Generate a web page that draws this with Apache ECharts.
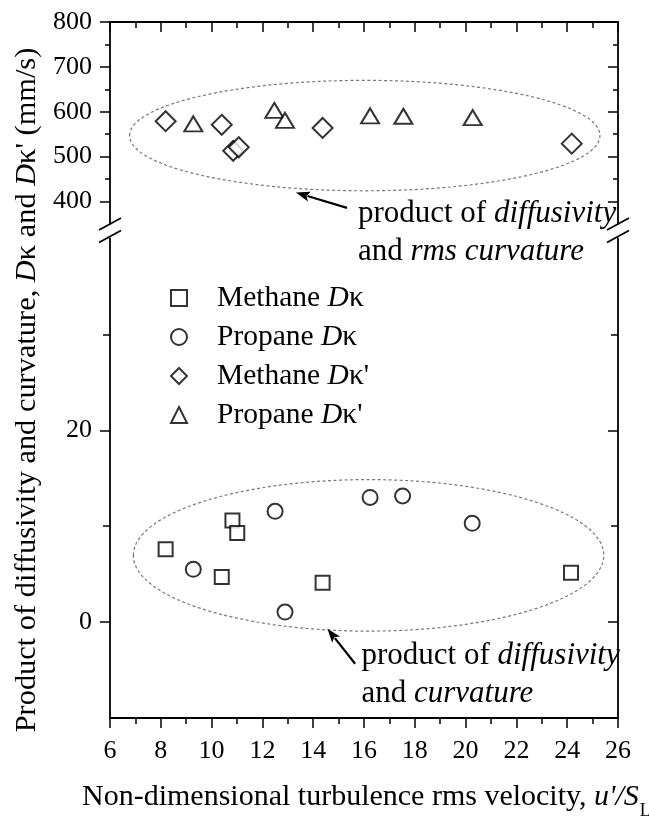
<!DOCTYPE html>
<html>
<head>
<meta charset="utf-8">
<script src="https://cdn.jsdelivr.net/npm/echarts@6.0.0/dist/echarts.min.js"></script>
<style>
html,body{margin:0;padding:0;background:#fff;}
#chart{width:649px;height:816px;}
</style>
</head>
<body>
<div id="chart"></div>
<script>
// ---------------- data ----------------
const xRange = [6, 26];
const topRange = [350, 800];
const topMajorTicks = [400, 500, 600, 700, 800];
const topMinorTicks = [450, 550, 650, 750];
const bottomRange = [-10, 40];
const bottomMajorTicks = [0, 20];
const bottomMinorTicks = [10, 30];

const seriesNames = ['Methane Dκ', 'Propane Dκ', "Methane Dκ'", "Propane Dκ'"];

// Methane D kappa (squares, lower panel)
const methaneDkX = [8.19, 10.40, 10.82, 11.01, 14.37, 24.15];
const methaneDkY = [7.6, 4.7, 10.6, 9.3, 4.1, 5.15];
// Propane D kappa (circles, lower panel)
const propaneDkX = [9.28, 12.50, 12.89, 16.24, 17.52, 20.26];
const propaneDkY = [5.5, 11.55, 1.05, 13.0, 13.15, 10.3];
// Methane D kappa' (diamonds, upper panel)
const methaneDkpX = [8.19, 10.40, 10.85, 11.07, 14.37, 24.18];
const methaneDkpY = [579, 571, 513, 521, 564, 529];
// Propane D kappa' (triangles, upper panel)
const propaneDkpX = [9.28, 12.47, 12.89, 16.24, 17.55, 20.28];
const propaneDkpY = [573, 603, 581, 591, 590, 587];

// ---------------- styles ----------------
const FONT = "'Liberation Serif','Times New Roman',serif";
const BLACK = '#000';
const axisLineStyle = { color: BLACK, width: 1.8 };
const tickLine = { color: BLACK, width: 1.5 };

function zip(xs, ys) { return xs.map((x, i) => [x, ys[i]]); }

function yAxisDef(grid, range, pos, ticks, opts) {
  return {
    type: 'value', gridIndex: grid, position: pos, min: range[0], max: range[1],
    axisLine: { show: opts.line, onZero: false, lineStyle: axisLineStyle },
    axisTick: { show: true, inside: opts.inside, length: opts.len, customValues: ticks, lineStyle: tickLine },
    axisLabel: opts.label ? { show: true, customValues: ticks, margin: 18, fontFamily: FONT, fontSize: 26, color: BLACK } : { show: false },
    splitLine: { show: false }
  };
}

const markerBase = { color: '#fff', borderColor: BLACK, borderWidth: 2 };

function richOf(size, lh) {
  return {
    n: { fontFamily: FONT, fontSize: size, color: BLACK, fill: BLACK, lineHeight: lh },
    i: { fontFamily: FONT, fontSize: size, color: BLACK, fill: BLACK, fontStyle: 'italic', lineHeight: lh }
  };
}

function legendLabel(name) {
  const m = name.match(/^(\S+) D(κ'?)$/);
  return '{n|' + m[1] + ' }{i|D}{n|' + m[2] + '}';
}

const option = {
  animation: false,
  backgroundColor: '#fff',
  grid: [
    { left: 110, right: 31, top: 22, height: 202 },
    { left: 110, right: 31, top: 238.5, height: 479.5 }
  ],
  xAxis: [
    {
      type: 'value', gridIndex: 0, position: 'top', min: xRange[0], max: xRange[1], interval: 2,
      axisLine: { show: true, onZero: false, lineStyle: axisLineStyle },
      axisTick: { show: true, inside: true, length: 10, lineStyle: tickLine },
      minorTick: { show: true, splitNumber: 2, length: 6, lineStyle: tickLine },
      axisLabel: { show: false }, splitLine: { show: false }
    },
    {
      type: 'value', gridIndex: 1, position: 'bottom', min: xRange[0], max: xRange[1], interval: 2,
      axisLine: { show: true, onZero: false, lineStyle: axisLineStyle },
      axisTick: { show: true, inside: false, length: 10, lineStyle: tickLine },
      minorTick: { show: true, splitNumber: 2, length: 6, lineStyle: tickLine },
      axisLabel: { show: true, margin: 20, fontFamily: FONT, fontSize: 26, color: BLACK },
      splitLine: { show: false }
    }
  ],
  yAxis: [
    yAxisDef(0, topRange, 'left', topMajorTicks, { line: true, inside: false, len: 10, label: true }),
    yAxisDef(0, topRange, 'left', topMinorTicks, { line: false, inside: false, len: 5, label: false }),
    yAxisDef(0, topRange, 'right', topMajorTicks, { line: true, inside: true, len: 10, label: false }),
    yAxisDef(0, topRange, 'right', topMinorTicks, { line: false, inside: true, len: 5, label: false }),
    yAxisDef(1, bottomRange, 'left', bottomMajorTicks, { line: true, inside: false, len: 10, label: true }),
    yAxisDef(1, bottomRange, 'left', bottomMinorTicks, { line: false, inside: false, len: 7, label: false }),
    yAxisDef(1, bottomRange, 'right', bottomMajorTicks, { line: true, inside: true, len: 10, label: false }),
    yAxisDef(1, bottomRange, 'right', bottomMinorTicks, { line: false, inside: true, len: 7, label: false })
  ],
  legend: {
    orient: 'vertical', left: 165, top: 278, itemGap: 9,
    itemWidth: 16, itemHeight: 16,
    data: seriesNames,
    formatter: legendLabel,
    itemStyle: { color: '#fff', borderColor: BLACK, borderWidth: 2 },
    textStyle: { fontFamily: FONT, fontSize: 29.5, color: BLACK, padding: [0, 0, 0, 25], rich: richOf(29.5, 28) },
    selectedMode: false
  },
  series: [
    { type: 'scatter', name: seriesNames[0], xAxisIndex: 1, yAxisIndex: 4, symbol: 'rect', symbolSize: 14,
      itemStyle: markerBase, data: zip(methaneDkX, methaneDkY), z: 5 },
    { type: 'scatter', name: seriesNames[1], xAxisIndex: 1, yAxisIndex: 4, symbol: 'circle', symbolSize: 15,
      itemStyle: markerBase, data: zip(propaneDkX, propaneDkY), z: 5 },
    { type: 'scatter', name: seriesNames[2], xAxisIndex: 0, yAxisIndex: 0, symbol: 'diamond', symbolSize: 20,
      itemStyle: markerBase, data: zip(methaneDkpX, methaneDkpY), z: 5 },
    { type: 'scatter', name: seriesNames[3], xAxisIndex: 0, yAxisIndex: 0, symbol: 'triangle', symbolSize: [18, 15],
      itemStyle: markerBase, data: zip(propaneDkpX, propaneDkpY), z: 5 }
  ]
};

const chart = echarts.init(document.getElementById('chart'), null, { renderer: 'canvas' });
chart.setOption(option);

// ---------------- annotations (in data units) ----------------
const ellipses = [
  { panel: 0, cx: 16.03, cy: 547, rx: 9.26, ry: 123 },
  { panel: 1, cx: 16.18, cy: 6.96, rx: 9.26, ry: 7.9 }
];
const arrows = [
  { panel: 0, from: [15.33, 386], to: [13.32, 420] },
  { panel: 1, from: [15.65, -4.34], to: [14.56, -0.69] }
];
const notes = [
  { panel: 0, at: [15.76, 372], lines: ['{n|product of }{i|diffusivity}', '{n|and }{i|rms curvature}'] },
  { panel: 1, at: [15.90, -3.5], lines: ['{n|product of }{i|diffusivity}', '{n|and }{i|curvature}'] }
];

function px(panel, x, y) {
  return chart.convertToPixel(panel === 0 ? { xAxisIndex: 0, yAxisIndex: 0 } : { xAxisIndex: 1, yAxisIndex: 4 }, [x, y]);
}

const graphics = [];
const dashStyle = { fill: null, stroke: '#777', lineWidth: 1.2, lineDash: [3, 2.5] };

ellipses.forEach(e => {
  const c = px(e.panel, e.cx, e.cy);
  const rxp = px(e.panel, e.cx + e.rx, e.cy)[0] - c[0];
  const ryp = c[1] - px(e.panel, e.cx, e.cy + e.ry)[1];
  graphics.push({ type: 'ellipse', z: 1, silent: true, shape: { cx: c[0], cy: c[1], rx: rxp, ry: ryp }, style: dashStyle });
});

arrows.forEach(a => {
  const p0 = px(a.panel, a.from[0], a.from[1]);
  const p1 = px(a.panel, a.to[0], a.to[1]);
  const dx = p1[0] - p0[0], dy = p1[1] - p0[1];
  const L = Math.hypot(dx, dy), ux = dx / L, uy = dy / L;
  const hl = 14, hw = 5;
  const bx = p1[0] - ux * hl, by = p1[1] - uy * hl;
  graphics.push({ type: 'line', z: 6, silent: true, shape: { x1: p0[0], y1: p0[1], x2: bx + ux * 2, y2: by + uy * 2 }, style: { stroke: BLACK, lineWidth: 2.2 } });
  graphics.push({ type: 'polygon', z: 6, silent: true, shape: { points: [[p1[0], p1[1]], [bx - uy * hw, by + ux * hw], [bx + ux * 3, by + uy * 3], [bx + uy * hw, by - ux * hw]] }, style: { fill: BLACK } });
});

const noteRich = richOf(31, 31);
notes.forEach(n => {
  const p = px(n.panel, n.at[0], n.at[1]);
  n.lines.forEach((t, k) => {
    graphics.push({ type: 'text', z: 6, silent: true, x: p[0], y: p[1] + k * 38,
      style: { text: t, rich: noteRich, align: 'left', verticalAlign: 'middle', fontFamily: FONT, fontSize: 31, fill: BLACK } });
  });
});

// axis break marks
const topBL = px(0, xRange[0], topRange[0]);
const topBR = px(0, xRange[1], topRange[0]);
const botTL = px(1, xRange[0], bottomRange[1]);
[[topBL[0], topBL[1]], [topBL[0], botTL[1] - 2], [topBR[0], topBR[1]], [topBR[0], botTL[1] - 2]].forEach(c => {
  graphics.push({ type: 'line', z: 7, silent: true, shape: { x1: c[0] - 11, y1: c[1] + 6, x2: c[0] + 11, y2: c[1] - 6 }, style: { stroke: BLACK, lineWidth: 1.8 } });
});

// axis titles
graphics.push({ type: 'text', z: 6, silent: true, x: 27, y: 390, rotation: Math.PI / 2,
  style: { text: "{n|Product of diffusivity and curvature, }{i|D}{n|κ and }{i|D}{n|κ' (mm/s)}",
    rich: richOf(30.4, 32),
    align: 'center', verticalAlign: 'middle', fontFamily: FONT, fontSize: 30.4, fill: BLACK } });

graphics.push({ type: 'text', z: 6, silent: true, x: 82, y: 797,
  style: { text: "{n|Non-dimensional turbulence rms velocity, }{i|u'/S}{sub|L}",
    rich: {
      n: { fontFamily: FONT, fontSize: 30, fill: BLACK, lineHeight: 34 },
      i: { fontFamily: FONT, fontSize: 30, fill: BLACK, fontStyle: 'italic', lineHeight: 34 },
      sub: { fontFamily: FONT, fontSize: 18, fill: BLACK, lineHeight: 18, padding: [28, 0, 0, 1] }
    },
    align: 'left', verticalAlign: 'middle', fontFamily: FONT, fontSize: 30, fill: BLACK } });

chart.setOption({ graphic: graphics });
</script>
</body>
</html>
